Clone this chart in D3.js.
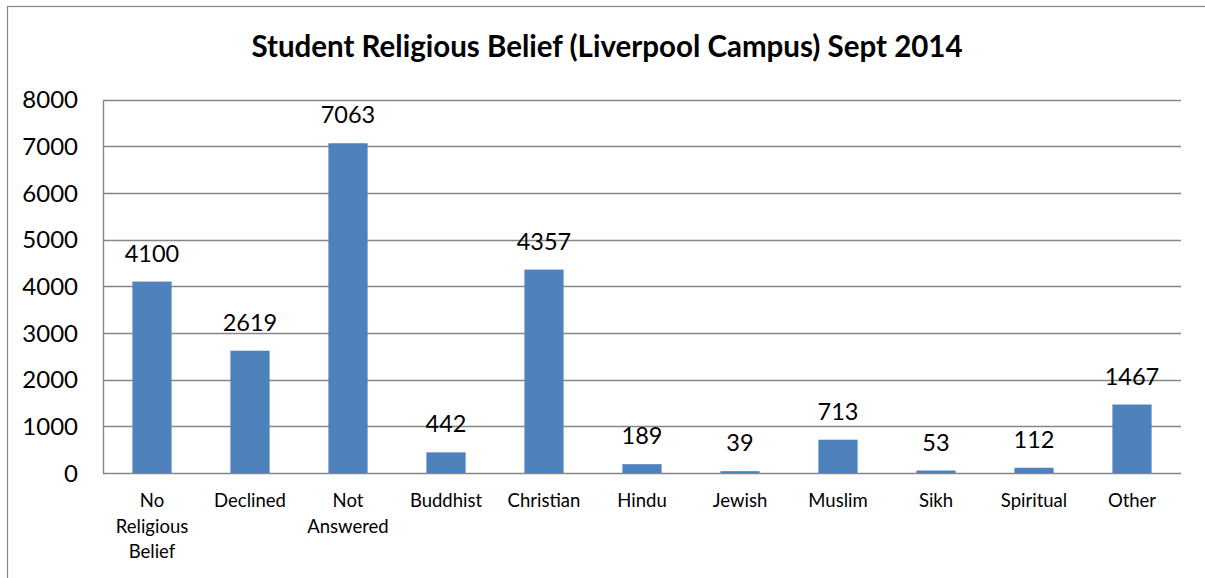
<!DOCTYPE html>
<html><head><meta charset="utf-8">
<script src="https://cdn.jsdelivr.net/npm/d3@7"></script>
<style>
html,body{margin:0;padding:0;background:#fff;}
svg{display:block;font-family:Lato,"Open Sans",sans-serif;}
</style></head>
<body><svg id="c" width="1205" height="578"></svg>
<script>
const categories = [["No","Religious","Belief"],["Declined"],["Not","Answered"],["Buddhist"],["Christian"],["Hindu"],["Jewish"],["Muslim"],["Sikh"],["Spiritual"],["Other"]];
const values = [4100, 2619, 7063, 442, 4357, 189, 39, 713, 53, 112, 1467];
const yTicks = [0, 1000, 2000, 3000, 4000, 5000, 6000, 7000, 8000];
const title = "Student Religious Belief (Liverpool Campus) Sept 2014";

const svg = d3.select("#c");
const W = 1205, H = 578;
const m = {left:103, right:1181, top:99.5, bottom:473};

// outer frame (extends beyond the visible window on right and bottom)
svg.append("rect").attr("x",7.5).attr("y",6.5).attr("width",W+40).attr("height",H+40)
  .attr("fill","#fff").attr("stroke","#868686").attr("stroke-width",1.2);

const x = d3.scaleBand().domain(d3.range(values.length)).range([m.left, m.right]).paddingInner(0.6).paddingOuter(0.3);
const y = d3.scaleLinear().domain([0, 8000]).range([m.bottom, m.top]);

// gridlines
svg.append("g").selectAll("line").data(yTicks).join("line")
  .attr("x1", m.left).attr("x2", m.right)
  .attr("y1", d=>Math.round(y(d))+0.5).attr("y2", d=>Math.round(y(d))+0.5)
  .attr("stroke","#868686").attr("stroke-width",1.4);

// y axis line
svg.append("line").attr("x1",m.left+0.5).attr("x2",m.left+0.5).attr("y1",Math.round(y(8000))+0.5).attr("y2",Math.round(y(0))+0.5)
  .attr("stroke","#868686").attr("stroke-width",1.4);

// y tick labels
svg.append("g").selectAll("text").data(yTicks).join("text")
  .attr("x", 78).attr("y", d=>y(d)).attr("dy","0.36em")
  .attr("text-anchor","end").attr("font-size",24).attr("fill","#000")
  .text(d=>d);

// bars
svg.append("g").selectAll("rect").data(values).join("rect")
  .attr("x",(d,i)=>x(i)).attr("width",x.bandwidth())
  .attr("y",d=>y(d)).attr("height",d=>y(0)-y(d))
  .attr("fill","#4F81BD");

// value labels
svg.append("g").selectAll("text").data(values).join("text")
  .attr("x",(d,i)=>x(i)+x.bandwidth()/2).attr("y",d=>y(d)-20)
  .attr("text-anchor","middle").attr("font-size",23.5).attr("fill","#000")
  .text(d=>d);

// category labels
const cat = svg.append("g").selectAll("text").data(categories).join("text")
  .attr("x",(d,i)=>x(i)+x.bandwidth()/2).attr("y",507)
  .attr("text-anchor","middle").attr("font-size",18.5).attr("fill","#000");
cat.selectAll("tspan").data(d=>d).join("tspan")
  .attr("x",function(){return this.parentNode.getAttribute("x");})
  .attr("dy",(d,j)=>j===0?0:25.5).text(d=>d);

// title
svg.append("text").attr("x",607).attr("y",57).attr("text-anchor","middle")
  .attr("font-size",29.5).attr("font-weight","bold").attr("fill","#000").text(title);
</script></body></html>
